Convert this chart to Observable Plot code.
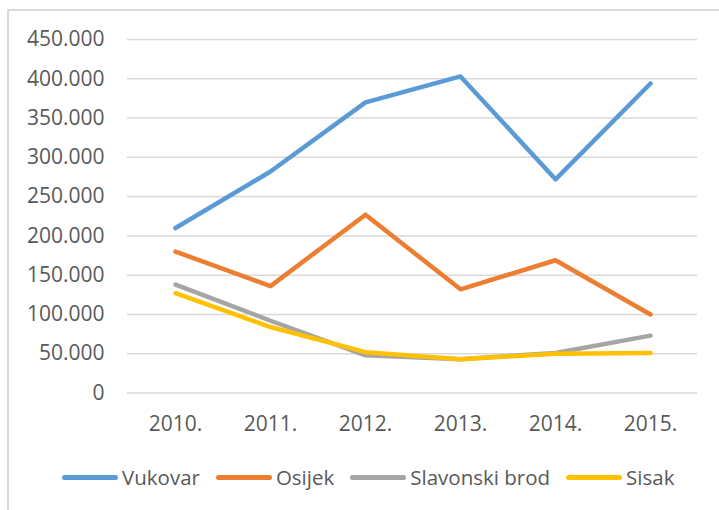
<!DOCTYPE html>
<html>
<head>
<meta charset="utf-8">
<script src="https://cdn.jsdelivr.net/npm/d3@7"></script>
<script src="https://cdn.jsdelivr.net/npm/@observablehq/plot@0.6"></script>
<style>
  html, body { margin: 0; padding: 0; background: #fff; }
  #wrap { position: relative; width: 719px; height: 510px; overflow: hidden; font-family: "Open Sans", sans-serif; }
  #frame { position: absolute; left: 7px; top: 9px; width: 720px; height: 520px; border: 2px solid #d9d9d9; box-sizing: border-box; }
  #chart { position: absolute; left: 0; top: 0; }
  #legend { position: absolute; left: 62px; top: 463px; height: 28px; display: flex; align-items: center; font-size: 20.5px; color: #595959; }
  .item { display: flex; align-items: center; margin-right: 16px; }
  .swatch { width: 56px; height: 5px; border-radius: 3px; margin-right: 4px; }
</style>
</head>
<body>
<div id="wrap">
  <div id="frame"></div>
  <div id="chart"></div>
  <div id="legend"></div>
</div>
<script>
const years = ["2010.", "2011.", "2012.", "2013.", "2014.", "2015."];
const seriesNames = ["Vukovar", "Osijek", "Slavonski brod", "Sisak"];
const seriesColors = ["#5B9BD5", "#ED7D31", "#A5A5A5", "#FFC000"];
const vukovar = [210000, 282000, 370000, 403000, 272000, 394000];
const osijek = [180000, 136000, 227000, 132000, 169000, 100000];
const slavonskiBrod = [138000, 92000, 48000, 43000, 51000, 73000];
const sisak = [127000, 84000, 52000, 43000, 50000, 51000];
const yTicks = [0, 50000, 100000, 150000, 200000, 250000, 300000, 350000, 400000, 450000];

const seriesValues = [vukovar, osijek, slavonskiBrod, sisak];
const data = seriesNames.flatMap((name, i) =>
  years.map((year, j) => ({ series: name, year, value: seriesValues[i][j] }))
);

const hr = d3.formatLocale({ decimal: ",", thousands: ".", grouping: [3], currency: ["", ""] });
const fmt = hr.format(",");

const chart = Plot.plot({
  width: 719,
  height: 445,
  marginLeft: 127,
  marginRight: 22,
  marginTop: 39,
  marginBottom: 52.5,
  style: { fontFamily: "'Open Sans', sans-serif", fontSize: "21px", color: "#595959", background: "transparent" },
  x: { type: "point", domain: years, padding: 0.5, label: null },
  y: { domain: [0, 450000], label: null },
  color: { domain: seriesNames, range: seriesColors },
  marks: [
    Plot.ruleY(yTicks, { stroke: "#d9d9d9", strokeWidth: 1.5 }),
    Plot.axisY({ ticks: yTicks, tickFormat: fmt, tickSize: 0, tickPadding: 23, label: null, fill: "#595959", fontSize: 21 }),
    Plot.axisX({ tickSize: 0, tickPadding: 23, label: null, fill: "#595959", fontSize: 21 }),
    Plot.line(data, {
      x: "year", y: "value", z: "series", stroke: "series",
      strokeWidth: 4.5, strokeLinecap: "round", strokeLinejoin: "round"
    })
  ]
});
document.getElementById("chart").appendChild(chart);

const legend = document.getElementById("legend");
seriesNames.forEach((name, i) => {
  const item = document.createElement("div");
  item.className = "item";
  const sw = document.createElement("div");
  sw.className = "swatch";
  sw.style.background = seriesColors[i];
  const label = document.createElement("span");
  label.textContent = name;
  item.appendChild(sw);
  item.appendChild(label);
  legend.appendChild(item);
});
</script>
</body>
</html>
